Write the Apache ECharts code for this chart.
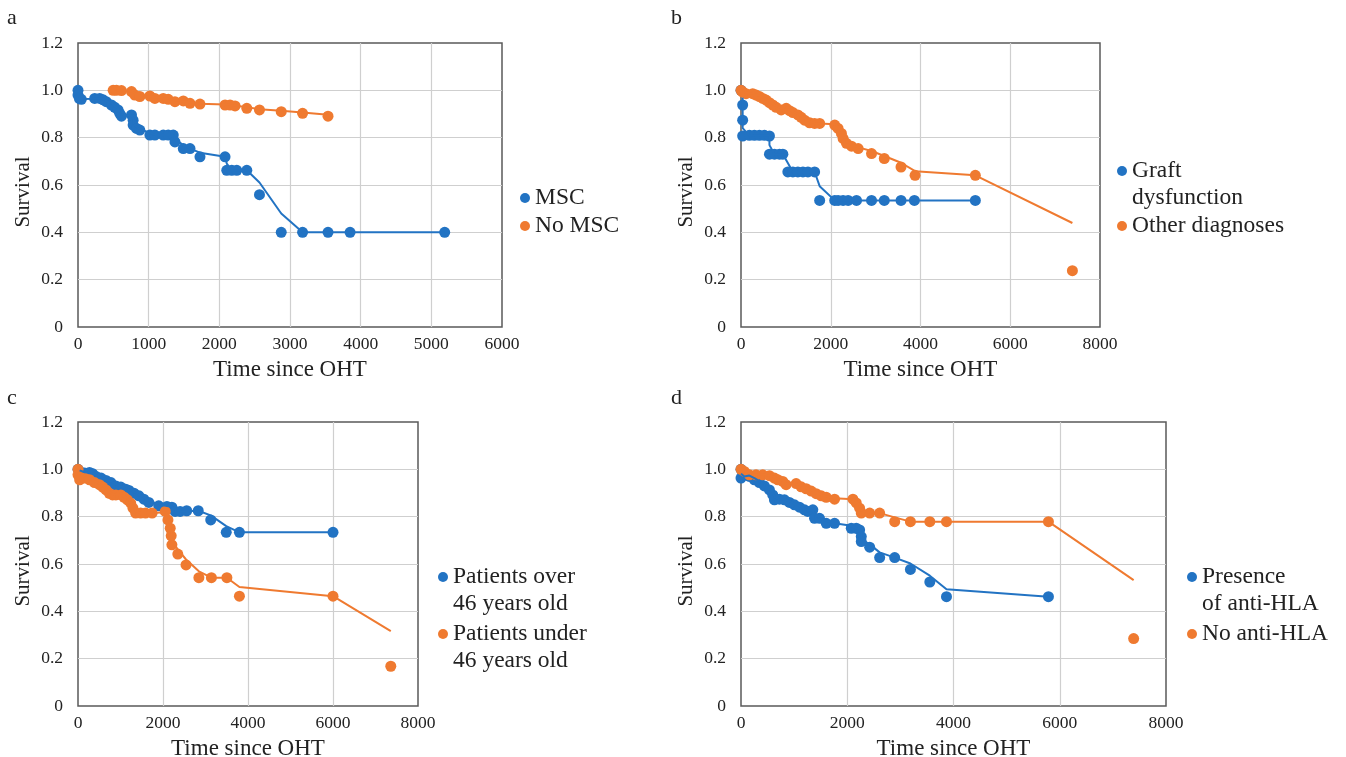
<!DOCTYPE html>
<html>
<head>
<meta charset="utf-8">
<title>Survival since OHT</title>
<script src="https://cdn.jsdelivr.net/npm/echarts@6/dist/echarts.min.js"></script>
<style>
  html, body { margin: 0; padding: 0; background: #fff; }
  #chart { width: 1346px; height: 757px; }
</style>
</head>
<body>
<div id="chart"></div>
<script>
// ---- Panel a: MSC vs No MSC ----
const mscDays = [0, 0, 20, 47, 236, 307, 355, 400, 473, 520, 567, 590, 615, 757, 780, 780, 828, 875, 1017, 1088, 1206, 1277, 1348, 1372, 1490, 1585, 1726, 2081, 2105, 2176, 2247, 2389, 2568, 2876, 3178, 3538, 3850, 5189];
const mscSurv = [1.0, 0.98, 0.965, 0.962, 0.966, 0.966, 0.96, 0.952, 0.938, 0.928, 0.917, 0.903, 0.891, 0.896, 0.874, 0.853, 0.839, 0.832, 0.811, 0.811, 0.811, 0.811, 0.811, 0.782, 0.754, 0.754, 0.719, 0.719, 0.662, 0.662, 0.662, 0.662, 0.559, 0.40, 0.40, 0.40, 0.40, 0.40];
const noMscDays = [497, 544, 615, 757, 804, 875, 1017, 1088, 1206, 1277, 1372, 1490, 1585, 1726, 2081, 2152, 2223, 2389, 2568, 2876, 3178, 3538];
const noMscSurv = [1.0, 1.0, 0.999, 0.995, 0.98, 0.974, 0.976, 0.966, 0.966, 0.962, 0.952, 0.955, 0.945, 0.942, 0.938, 0.938, 0.934, 0.924, 0.917, 0.91, 0.903, 0.891];

// ---- Panel b: graft dysfunction vs other diagnoses ----
const graftDays = [0, 37, 37, 37, 187, 298, 410, 522, 634, 634, 746, 858, 933, 1044, 1156, 1268, 1380, 1492, 1641, 1753, 2089, 2164, 2275, 2387, 2574, 2909, 3193, 3566, 3864, 5222];
const graftSurv = [1.0, 0.938, 0.874, 0.807, 0.81, 0.81, 0.81, 0.81, 0.807, 0.73, 0.73, 0.73, 0.73, 0.655, 0.655, 0.655, 0.655, 0.655, 0.655, 0.535, 0.535, 0.535, 0.535, 0.535, 0.535, 0.535, 0.535, 0.535, 0.535, 0.535];
const otherDays = [0, 37, 112, 261, 336, 410, 485, 560, 634, 709, 783, 895, 1007, 1082, 1156, 1268, 1342, 1417, 1529, 1641, 1753, 2089, 2164, 2238, 2275, 2350, 2462, 2611, 2909, 3193, 3566, 3879, 5222, 7385];
const otherSurv = [1.0, 0.993, 0.986, 0.986, 0.98, 0.974, 0.966, 0.959, 0.948, 0.938, 0.928, 0.917, 0.924, 0.914, 0.906, 0.896, 0.886, 0.874, 0.863, 0.86, 0.86, 0.853, 0.839, 0.818, 0.797, 0.776, 0.764, 0.754, 0.733, 0.712, 0.676, 0.641, 0.641, 0.238];

// ---- Panel c: age groups ----
const overDays = [0, 39, 155, 271, 349, 426, 543, 659, 775, 891, 1008, 1124, 1201, 1318, 1434, 1550, 1666, 1899, 2093, 2209, 2286, 2403, 2558, 2829, 3123, 3488, 3798, 6000];
const overSurv = [1.0, 0.991, 0.984, 0.987, 0.981, 0.97, 0.963, 0.953, 0.944, 0.93, 0.925, 0.916, 0.911, 0.899, 0.888, 0.874, 0.86, 0.846, 0.843, 0.84, 0.822, 0.822, 0.825, 0.825, 0.786, 0.734, 0.734, 0.734];
const underDays = [0, 0, 39, 155, 271, 388, 504, 581, 659, 736, 814, 891, 1008, 1085, 1163, 1240, 1294, 1356, 1473, 1589, 1744, 2054, 2116, 2170, 2193, 2209, 2348, 2542, 2844, 3139, 3503, 3798, 6000, 7360];
const underSurv = [1.0, 0.977, 0.956, 0.963, 0.956, 0.944, 0.935, 0.925, 0.913, 0.899, 0.892, 0.892, 0.892, 0.882, 0.871, 0.857, 0.836, 0.815, 0.815, 0.815, 0.815, 0.822, 0.786, 0.751, 0.719, 0.681, 0.642, 0.596, 0.542, 0.542, 0.542, 0.464, 0.464, 0.168];

// ---- Panel d: anti-HLA ----
const hlaDays = [0, 0, 63, 157, 252, 346, 440, 535, 598, 629, 723, 818, 912, 1006, 1101, 1195, 1258, 1352, 1384, 1478, 1604, 1761, 2076, 2170, 2233, 2264, 2264, 2422, 2610, 2893, 3189, 3554, 3868, 5787];
const hlaSurv = [1.0, 0.963, 0.977, 0.97, 0.956, 0.944, 0.93, 0.913, 0.892, 0.871, 0.874, 0.871, 0.86, 0.85, 0.84, 0.829, 0.822, 0.829, 0.793, 0.793, 0.772, 0.772, 0.751, 0.751, 0.744, 0.716, 0.695, 0.671, 0.627, 0.627, 0.577, 0.524, 0.462, 0.462];
const noHlaDays = [0, 63, 157, 283, 409, 535, 629, 692, 786, 849, 1038, 1132, 1227, 1321, 1415, 1510, 1604, 1761, 2107, 2170, 2233, 2264, 2422, 2610, 2893, 3189, 3554, 3868, 5787, 7391];
const noHlaSurv = [1.0, 0.991, 0.977, 0.977, 0.977, 0.973, 0.963, 0.956, 0.949, 0.935, 0.94, 0.926, 0.918, 0.908, 0.897, 0.888, 0.882, 0.874, 0.874, 0.858, 0.836, 0.815, 0.815, 0.815, 0.779, 0.779, 0.779, 0.779, 0.779, 0.285];

// ---- Labels ----
const panelLetters = ['a', 'b', 'c', 'd'];
const seriesNames = [
  ['MSC', 'No MSC'],
  ['Graft dysfunction', 'Other diagnoses'],
  ['Patients over 46 years old', 'Patients under 46 years old'],
  ['Presence of anti-HLA', 'No anti-HLA']
];
const legendLines = [
  [['MSC'], ['No MSC']],
  [['Graft', 'dysfunction'], ['Other diagnoses']],
  [['Patients over', '46 years old'], ['Patients under', '46 years old']],
  [['Presence', 'of anti-HLA'], ['No anti-HLA']]
];
const xMaxes = [6000, 8000, 8000, 8000];
const xSteps = [1000, 2000, 2000, 2000];
const yAxisTitle = 'Survival';
const xAxisTitle = 'Time since OHT';

const BLUE = '#2273c3';
const ORANGE = '#ef7a30';
const FONT = 'Liberation Serif';
const TEXT = '#222';

// Two-point moving-average trendline through a series of points
function movingAverage2(xs, ys) {
  const out = [];
  for (let i = 1; i < xs.length; i++) out.push([xs[i], (ys[i - 1] + ys[i]) / 2]);
  return out;
}
function pairs(xs, ys) { return xs.map((x, i) => [x, ys[i]]); }

const panelData = [
  [[mscDays, mscSurv], [noMscDays, noMscSurv]],
  [[graftDays, graftSurv], [otherDays, otherSurv]],
  [[overDays, overSurv], [underDays, underSurv]],
  [[hlaDays, hlaSurv], [noHlaDays, noHlaSurv]]
];

// plot rectangles (left, top, width, height)
const grids = [
  { left: 78, top: 43, width: 424, height: 284 },
  { left: 741, top: 43, width: 359, height: 284 },
  { left: 78, top: 422, width: 340, height: 284 },
  { left: 741, top: 422, width: 425, height: 284 }
];
// legend anchor: icon centre x, first-line centre y of each entry
const legendPos = [
  { x: 525, y: [198, 226] },
  { x: 1122, y: [171, 226] },
  { x: 443, y: [577, 634] },
  { x: 1192, y: [577, 634] }
];
const LINE_H = 27;

const gridLine = { show: true, showMinLine: false, showMaxLine: false, lineStyle: { color: '#cfcfcf', width: 1.2 } };

const option = {
  backgroundColor: '#fff',
  animation: false,
  title: panelLetters.map((t, i) => ({
    text: t,
    left: i % 2 === 0 ? 7 : 671,
    top: i < 2 ? 7 : 387,
    padding: 0,
    textStyle: { fontFamily: FONT, fontSize: 22, fontWeight: 'normal', color: TEXT }
  })),
  grid: grids.map(g => Object.assign({
    show: true, borderColor: '#5a5a5a', borderWidth: 1.5, backgroundColor: 'transparent',
    containLabel: false, outerBoundsMode: 'none'
  }, g)),
  xAxis: grids.map((g, i) => ({
    type: 'value', gridIndex: i, min: 0, max: xMaxes[i], interval: xSteps[i],
    name: xAxisTitle, nameLocation: 'middle', nameGap: 31,
    nameTextStyle: { fontFamily: FONT, fontSize: 23, color: TEXT },
    axisLine: { show: false }, axisTick: { show: false },
    axisLabel: { fontFamily: FONT, fontSize: 17.5, color: TEXT, margin: 8, formatter: v => String(v) },
    splitLine: gridLine
  })),
  yAxis: grids.map((g, i) => ({
    type: 'value', gridIndex: i, min: 0, max: 1.2, interval: 0.2,
    name: yAxisTitle, nameLocation: 'middle', nameGap: 44, nameRotate: 90,
    nameTextStyle: { fontFamily: FONT, fontSize: 21, color: TEXT, padding: [0, 14, 0, 0] },
    axisLine: { show: false }, axisTick: { show: false },
    axisLabel: {
      fontFamily: FONT, fontSize: 17.5, color: TEXT, margin: 15,
      formatter: v => (v === 0 ? '0' : v.toFixed(1))
    },
    splitLine: gridLine
  })),
  legend: [],
  series: []
};

panelData.forEach((panel, p) => {
  const colors = [BLUE, ORANGE];
  panel.forEach(([xs, ys], s) => {
    option.series.push({
      type: 'scatter', name: seriesNames[p][s], xAxisIndex: p, yAxisIndex: p,
      data: pairs(xs, ys), symbol: 'circle', symbolSize: 11,
      itemStyle: { color: colors[s], opacity: 1 }, z: 2
    });
  });
  panel.forEach(([xs, ys], s) => {
    option.series.push({
      type: 'line', name: seriesNames[p][s] + ' trend', xAxisIndex: p, yAxisIndex: p,
      data: movingAverage2(xs, ys), showSymbol: false, symbol: 'none',
      lineStyle: { color: colors[s], width: 2 }, z: 3, silent: true
    });
    // one legend entry per series; a blank leading line keeps the dot beside the first text line
    const lines = legendLines[p][s];
    const text = lines.length > 1 ? [' '].concat(lines).join('\n') : lines[0];
    const nLines = lines.length > 1 ? lines.length + 1 : 1;
    const itemH = nLines * LINE_H;
    option.legend.push({
      data: [seriesNames[p][s]],
      orient: 'vertical',
      left: legendPos[p].x - 5,
      top: legendPos[p].y[s] - itemH / 2,
      padding: 0,
      itemWidth: 10, itemHeight: 10,
      icon: 'circle',
      selectedMode: false,
      formatter: () => text,
      textStyle: { fontFamily: FONT, fontSize: 23.5, color: TEXT, lineHeight: LINE_H }
    });
  });
});

const chart = echarts.init(document.getElementById('chart'), null, { renderer: 'canvas' });
chart.setOption(option);
</script>
</body>
</html>
